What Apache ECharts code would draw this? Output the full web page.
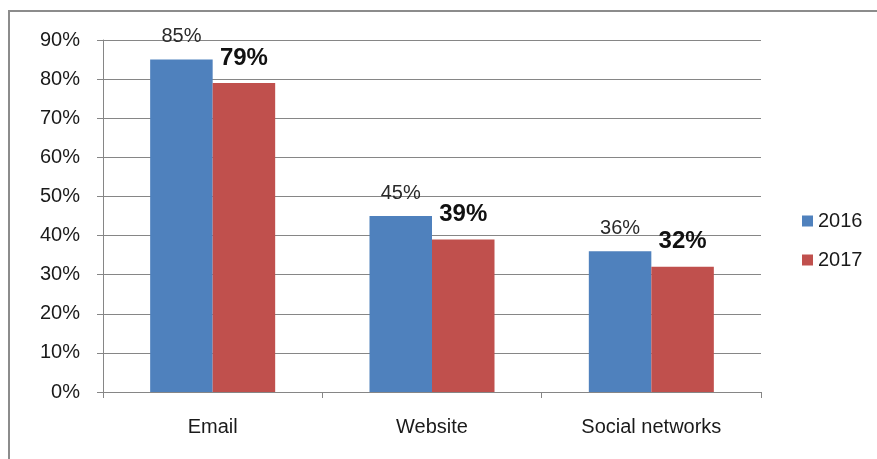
<!DOCTYPE html>
<html>
<head>
<meta charset="utf-8">
<script src="https://cdn.jsdelivr.net/npm/echarts@6/dist/echarts.min.js"></script>
<style>
html,body{margin:0;padding:0;background:#fff;}
#chart{width:877px;height:459px;}
</style>
</head>
<body>
<div id="chart"></div>
<script>
// Channels compared across two survey years
const categories = ['Email', 'Website', 'Social networks'];
const values2016 = [85, 45, 36];
const values2017 = [79, 39, 32];
const yTicks = [0, 10, 20, 30, 40, 50, 60, 70, 80, 90];

const FONT = '"Liberation Sans", Arial, sans-serif';
const chart = echarts.init(document.getElementById('chart'));

chart.setOption({
  backgroundColor: '#ffffff',
  animation: false,
  textStyle: { fontFamily: FONT },
  graphic: [{
    type: 'polyline',
    shape: { points: [[9, 459], [9, 11], [877, 11]] },
    style: { stroke: '#8c8c8c', lineWidth: 2, fill: null }
  }],
  legend: {
    orient: 'vertical',
    left: 802,
    top: 211,
    padding: 0,
    itemWidth: 11,
    itemHeight: 11,
    itemGap: 19,
    icon: 'rect',
    textStyle: { fontSize: 20, color: '#1a1a1a', fontFamily: FONT },
    data: ['2016', '2017']
  },
  grid: { left: 103, right: 116, top: 40, bottom: 67 },
  xAxis: {
    type: 'category',
    data: categories,
    axisLine: { lineStyle: { color: '#868686', width: 1 } },
    axisTick: { show: true, length: 6, lineStyle: { color: '#868686' } },
    axisLabel: { color: '#1a1a1a', fontSize: 20, margin: 25, fontFamily: FONT }
  },
  yAxis: {
    type: 'value',
    min: yTicks[0],
    max: yTicks[yTicks.length - 1],
    interval: 10,
    axisLine: { show: true, lineStyle: { color: '#868686', width: 1 } },
    axisTick: { show: true, length: 6, lineStyle: { color: '#868686' } },
    splitLine: { lineStyle: { color: '#868686', width: 1 } },
    axisLabel: { color: '#1a1a1a', fontSize: 20, margin: 23, fontFamily: FONT, formatter: '{value}%' }
  },
  series: [{
    name: '2016',
    type: 'bar',
    data: values2016,
    barGap: '0%',
    barCategoryGap: '43%',
    itemStyle: { color: '#4F81BD' },
    label: {
      show: true, position: 'top', distance: 13,
      formatter: '{c}%', fontSize: 20, color: '#2a2a2a', fontFamily: FONT
    }
  }, {
    name: '2017',
    type: 'bar',
    data: values2017,
    itemStyle: { color: '#C0504D' },
    label: {
      show: true, position: 'top', distance: 13,
      formatter: '{c}%', fontSize: 24, fontWeight: 'bold', color: '#111', fontFamily: FONT
    }
  }]
});
</script>
</body>
</html>
